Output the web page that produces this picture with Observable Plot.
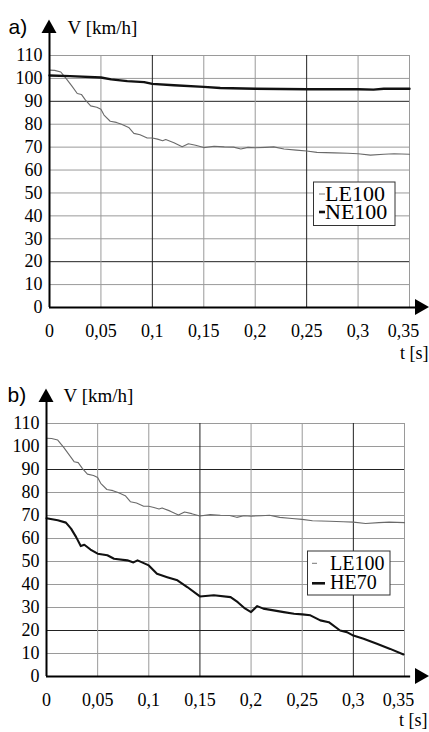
<!DOCTYPE html>
<html>
<head>
<meta charset="utf-8">
<script src="https://cdn.jsdelivr.net/npm/d3@7"></script>
<script src="https://cdn.jsdelivr.net/npm/@observablehq/plot@0.6"></script>
<style>
  html, body { margin: 0; padding: 0; background: white; }
  svg { display: block; }
</style>
</head>
<body>
<div id="chart"></div>
<script>
// ---------- data ----------
const xTicks = [0, 0.05, 0.1, 0.15, 0.2, 0.25, 0.3, 0.35];
const yTicks = [0, 10, 20, 30, 40, 50, 60, 70, 80, 90, 100, 110];

const tLE100 = [0, 0.005, 0.011, 0.017, 0.022, 0.027, 0.031, 0.035, 0.040, 0.046, 0.050, 0.053, 0.059, 0.065, 0.070, 0.077, 0.082, 0.088, 0.095, 0.100, 0.105, 0.110, 0.113, 0.121, 0.129, 0.135, 0.142, 0.150, 0.160, 0.170, 0.179, 0.186, 0.193, 0.200, 0.210, 0.218, 0.228, 0.240, 0.250, 0.260, 0.277, 0.290, 0.300, 0.312, 0.325, 0.335, 0.350];
const vLE100 = [103.6, 103.5, 102.8, 99.5, 96.5, 93.4, 93.0, 90.5, 88.0, 87.4, 86.5, 84.0, 81.3, 80.8, 80.0, 78.6, 76.0, 75.4, 74.0, 74.0, 73.5, 72.8, 73.3, 71.9, 70.2, 71.5, 70.8, 69.8, 70.4, 70.1, 70.0, 69.2, 69.9, 69.7, 69.9, 70.1, 69.2, 68.7, 68.3, 67.7, 67.5, 67.3, 67.1, 66.5, 66.9, 67.1, 66.9];

const tNE100 = [0, 0.02, 0.05, 0.06, 0.0756, 0.092, 0.10, 0.121, 0.15, 0.166, 0.20, 0.25, 0.30, 0.315, 0.325, 0.35];
const vNE100 = [101.3, 101.0, 100.4, 99.6, 98.8, 98.4, 97.6, 97.0, 96.3, 95.8, 95.5, 95.3, 95.3, 95.1, 95.5, 95.5];

const tHE70 = [0, 0.011, 0.019, 0.024, 0.029, 0.0335, 0.037, 0.043, 0.050, 0.0595, 0.066, 0.079, 0.085, 0.089, 0.100, 0.108, 0.118, 0.128, 0.1376, 0.150, 0.1636, 0.180, 0.187, 0.194, 0.200, 0.206, 0.212, 0.232, 0.242, 0.250, 0.258, 0.2677, 0.276, 0.287, 0.2937, 0.300, 0.310, 0.323, 0.336, 0.349];
const vHE70 = [68.8, 67.9, 66.9, 64.3, 60.6, 56.7, 57.3, 55.2, 53.4, 52.7, 51.2, 50.5, 49.6, 50.5, 48.3, 44.7, 43.2, 41.8, 38.9, 34.8, 35.3, 34.5, 32.3, 29.6, 28.0, 30.6, 29.5, 28.0, 27.3, 27.0, 26.6, 24.4, 23.6, 20.0, 19.3, 17.8, 16.4, 14.2, 12.0, 9.6];

const panelLabels = ["a)", "b)"];
const yLabel = "V [km/h]";
const xLabel = "t [s]";
// ---------------------------

const SERIF = "Liberation Serif, serif";
const SANS = "Liberation Sans, sans-serif";
const toRows = (ts, vs) => ts.map((t, i) => ({t, v: vs[i]}));
const LE100 = toRows(tLE100, vLE100);
const NE100 = toRows(tNE100, vNE100);
const HE70 = toRows(tHE70, vHE70);
const fmt = d => String(d).replace(".", ",");

const styles = {
  LE100: {stroke: "#6a6a6a", strokeWidth: 1.1, legendStroke: "#777", legendWidth: 1},
  NE100: {stroke: "#111", strokeWidth: 2.4, legendStroke: "#111", legendWidth: 2.6},
  HE70: {stroke: "#111", strokeWidth: 2.1, legendStroke: "#111", legendWidth: 2.6}
};

function makeChart(cfg) {
  const svg = Plot.plot({
    width: 429, height: 366,
    marginLeft: cfg.ml, marginRight: cfg.mr, marginTop: cfg.mt, marginBottom: cfg.mb,
    x: {domain: [0, 0.35], label: null},
    y: {domain: [0, 110], label: null},
    style: {fontFamily: SERIF, fontSize: "18px", color: "black", background: "white"},
    marks: [
      Plot.ruleY(yTicks.filter(d => d > 0), {stroke: d => cfg.darkY.includes(d) ? "#222" : "#9a9a9a", strokeWidth: 1}),
      Plot.ruleX(xTicks.filter(d => d > 0), {stroke: d => cfg.darkX.includes(d) ? "#222" : "#9a9a9a", strokeWidth: 1}),
      ...cfg.series.map(s => Plot.line(s.data, {x: "t", y: "v", stroke: styles[s.name].stroke, strokeWidth: styles[s.name].strokeWidth})),
      Plot.ruleX([0], {y1: 0, y2: 120, stroke: "black", strokeWidth: 2}),
      Plot.ruleY([0], {x1: 0, x2: 0.356, stroke: "black", strokeWidth: 2}),
      Plot.axisY(yTicks, {tickSize: 0, tickPadding: 7, fontSize: 18, fontFamily: SERIF}),
      Plot.axisX(xTicks.slice(0, -1), {tickSize: 0, tickPadding: 17, fontSize: 18, fontFamily: SERIF, tickFormat: fmt}),
      Plot.axisX(xTicks.slice(-1), {tickSize: 0, tickPadding: 17, fontSize: 18, fontFamily: SERIF, tickFormat: fmt, dx: -6}),
      Plot.text([cfg.label], {frameAnchor: "top-left", lineAnchor: "middle", dx: cfg.labelDx, dy: -28, textAnchor: "start", fontFamily: SANS, fontSize: 21}),
      Plot.text([yLabel], {frameAnchor: "top-left", lineAnchor: "middle", dx: cfg.yLabDx, dy: -28, textAnchor: "start", fontFamily: SERIF, fontSize: 19}),
      Plot.text([xLabel], {frameAnchor: "bottom-right", lineAnchor: "middle", dx: cfg.xLabDx, dy: cfg.xLabDy, textAnchor: "end", fontFamily: SERIF, fontSize: 18})
    ]
  });
  const sx = svg.scale("x"), sy = svg.scale("y");
  const x0 = sx.apply(0), y0 = sy.apply(0);
  const g = d3.select(svg).append("g");
  // axis arrowheads
  const yTop = sy.apply(cfg.yArrowTop);
  g.append("path").attr("d", `M${x0},${yTop} L${x0 - 7.5},${yTop + 13.5} L${x0 + 7.5},${yTop + 13.5} Z`).attr("fill", "black");
  g.append("path").attr("d", `M429,${y0} L415,${y0 - 8} L415,${y0 + 8} Z`).attr("fill", "black");
  // legend
  const L = cfg.legend;
  g.append("rect").attr("x", L.x).attr("y", L.y).attr("width", L.w).attr("height", L.h)
    .attr("fill", "white").attr("stroke", "#333").attr("stroke-width", 1);
  L.items.forEach(it => {
    g.append("line").attr("x1", it.dx1).attr("x2", it.dx2).attr("y1", it.ly).attr("y2", it.ly)
      .attr("stroke", styles[it.name].legendStroke).attr("stroke-width", styles[it.name].legendWidth);
    g.append("text").attr("x", it.tx).attr("y", it.ty).text(it.name)
      .attr("text-anchor", "start")
      .attr("font-family", SERIF).attr("font-size", L.fs).attr("fill", "black");
  });
  return svg;
}

const root = document.getElementById("chart");
root.appendChild(makeChart({
  ml: 49, mr: 20, mt: 55, mb: 59,
  darkY: [90, 20], darkX: [0.1, 0.25],
  series: [{name: "LE100", data: LE100}, {name: "NE100", data: NE100}],
  yArrowTop: 125.5,
  label: panelLabels[0], labelDx: -41, yLabDx: 18, xLabDx: 19, xLabDy: 46,
  legend: {x: 313.5, y: 182, w: 81.5, h: 43.5, fs: 22, items: [
    {name: "LE100", dx1: 319, dx2: 325, ly: 194, tx: 325, ty: 201},
    {name: "NE100", dx1: 319, dx2: 325, ly: 212, tx: 325, ty: 219}
  ]}
}));
root.appendChild(makeChart({
  ml: 46, mr: 25, mt: 57, mb: 56,
  darkY: [90, 20], darkX: [0.15, 0.3],
  series: [{name: "LE100", data: LE100}, {name: "HE70", data: HE70}],
  yArrowTop: 125,
  label: panelLabels[1], labelDx: -39, yLabDx: 17, xLabDx: 23, xLabDy: 44,
  legend: {x: 307.5, y: 185, w: 82.5, h: 44, fs: 20, items: [
    {name: "LE100", dx1: 312, dx2: 317, ly: 197.3, tx: 330, ty: 204},
    {name: "HE70", dx1: 312, dx2: 325, ly: 217.3, tx: 330, ty: 223.3}
  ]}
}));
</script>
</body>
</html>
